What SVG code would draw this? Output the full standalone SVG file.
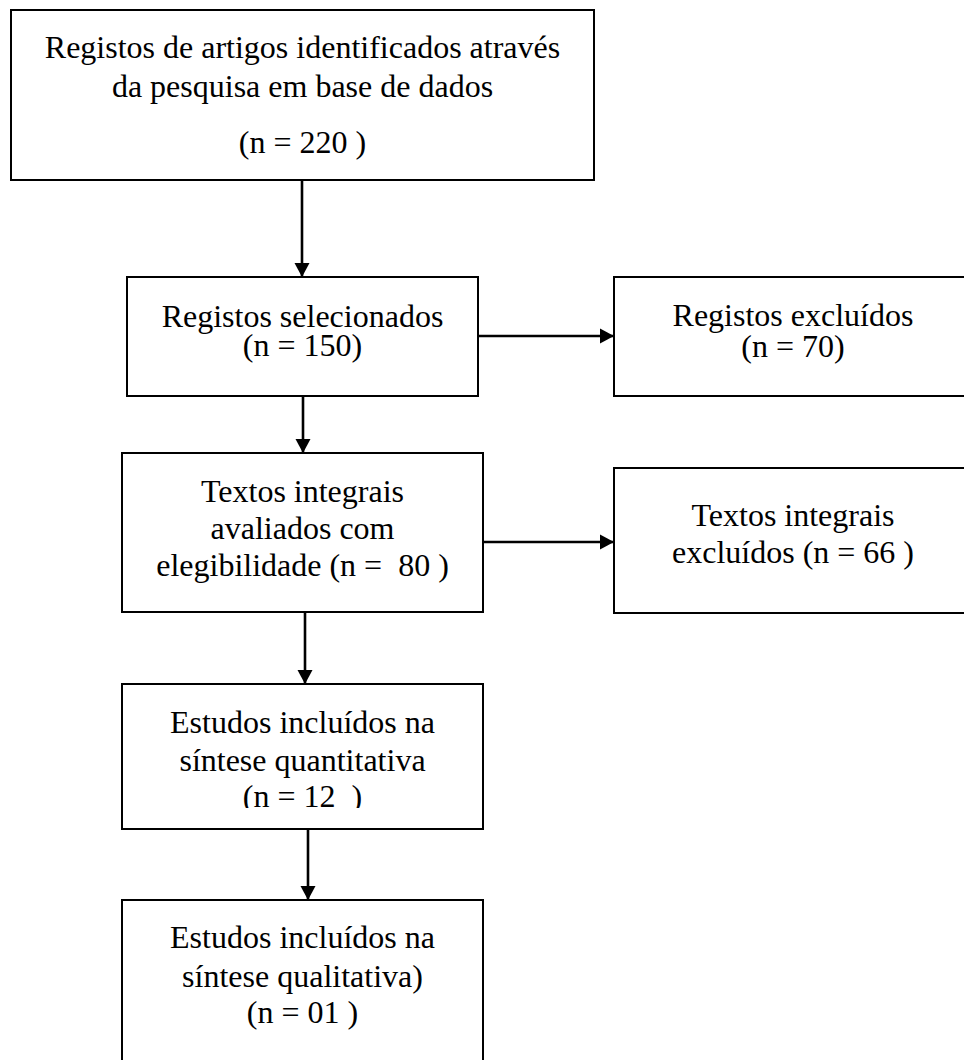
<svg xmlns="http://www.w3.org/2000/svg" width="964" height="1060" viewBox="0 0 964 1060">
<style>
.box{fill:#fff;stroke:#000;stroke-width:2}
.t{font-family:"Liberation Serif","Times New Roman",serif;font-size:32px;fill:#000;text-anchor:middle;white-space:pre}
.c{stroke:#000;stroke-width:2.6;fill:none;marker-end:url(#ah)}
</style>
<defs>
<marker id="ah" markerUnits="userSpaceOnUse" markerWidth="16" markerHeight="16" viewBox="0 0 14 16" refX="14" refY="8" orient="auto">
<path d="M0,0.5 L14,8 L0,15.5 Z" fill="#000"/>
</marker>
<clipPath id="clip6"><rect x="0" y="0" width="964" height="808"/></clipPath>
</defs>
<rect width="964" height="1060" fill="#fff"/>
<g id="n1">
<rect class="box" x="11" y="10" width="583" height="170"/>
<text class="t" x="302.5" y="58">Registos de artigos identificados através</text>
<text class="t" x="302.5" y="97">da pesquisa em base de dados</text>
<text class="t" x="302.5" y="153">(n = 220 )</text>
</g>
<g id="n2">
<rect class="box" x="127" y="277" width="351" height="119"/>
<text class="t" x="302.5" y="327">Registos selecionados</text>
<text class="t" x="302.5" y="356">(n = 150)</text>
</g>
<g id="n3">
<rect class="box" x="614" y="277" width="400" height="119"/>
<text class="t" x="793" y="326">Registos excluídos</text>
<text class="t" x="793" y="357">(n = 70)</text>
</g>
<g id="n4">
<rect class="box" x="122" y="453" width="361" height="159"/>
<text class="t" x="302.5" y="502">Textos integrais</text>
<text class="t" x="302.5" y="539">avaliados com</text>
<text class="t" x="302.5" y="576">elegibilidade (n =  80 )</text>
</g>
<g id="n5">
<rect class="box" x="614" y="468" width="400" height="145"/>
<text class="t" x="793" y="526">Textos integrais</text>
<text class="t" x="793" y="563">excluídos (n = 66 )</text>
</g>
<g id="n6">
<rect class="box" x="122" y="684" width="361" height="145"/>
<text class="t" x="302.5" y="733">Estudos incluídos na</text>
<text class="t" x="302.5" y="771">síntese quantitativa</text>
<text class="t" x="302.5" y="807" clip-path="url(#clip6)">(n = 12  )</text>
</g>
<g id="n7">
<rect class="box" x="122" y="900" width="361" height="200"/>
<text class="t" x="302.5" y="948">Estudos incluídos na</text>
<text class="t" x="302.5" y="987">síntese qualitativa)</text>
<text class="t" x="302.5" y="1023">(n = 01 )</text>
</g>
<g id="connectors">
<line class="c" x1="302" y1="181" x2="302" y2="277"/>
<line class="c" x1="479" y1="336" x2="614" y2="336"/>
<line class="c" x1="303" y1="397" x2="303" y2="453"/>
<line class="c" x1="484" y1="542" x2="614" y2="542"/>
<line class="c" x1="305" y1="613" x2="305" y2="684"/>
<line class="c" x1="308" y1="830" x2="308" y2="900"/>
</g>
</svg>
